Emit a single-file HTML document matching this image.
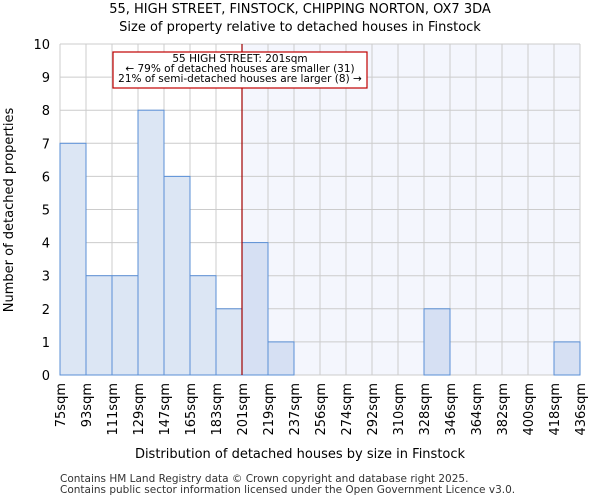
<!DOCTYPE html>
<html><head><meta charset="utf-8"><style>
body{margin:0;background:#fff;font-family:"DejaVu Sans","Liberation Sans",sans-serif}
</style></head><body>
<svg id="chart" width="600" height="500" xmlns="http://www.w3.org/2000/svg" font-family="DejaVu Sans, Liberation Sans, sans-serif">
<text x="300" y="13" font-size="13" text-anchor="middle">55, HIGH STREET, FINSTOCK, CHIPPING NORTON, OX7 3DA</text>
<text x="300" y="31" font-size="13" text-anchor="middle">Size of property relative to detached houses in Finstock</text>
<g id="plot"></g>
<text x="300" y="458" font-size="13" text-anchor="middle">Distribution of detached houses by size in Finstock</text>
<text transform="translate(13,210) rotate(-90)" font-size="13" text-anchor="middle">Number of detached properties</text>
<text x="60" y="482" font-size="10.5" fill="#333">Contains HM Land Registry data © Crown copyright and database right 2025.</text>
<text x="60" y="493" font-size="10.5" fill="#333">Contains public sector information licensed under the Open Government Licence v3.0.</text>
</svg>
<script>
const binLabels=["75sqm","93sqm","111sqm","129sqm","147sqm","165sqm","183sqm","201sqm","219sqm","237sqm","256sqm","274sqm","292sqm","310sqm","328sqm","346sqm","364sqm","382sqm","400sqm","418sqm","436sqm"];
const counts=[7,3,3,8,6,3,2,4,1,0,0,0,0,0,2,0,0,0,0,1];
const yTicks=[0,1,2,3,4,5,6,7,8,9,10];
const markerBin=7;
const NS="http://www.w3.org/2000/svg";
const L=60,R=580,T=44,B=375,yMax=10;
const bw=(R-L)/counts.length;
const xs=i=>L+i*bw;
const ys=v=>B-(v/yMax)*(B-T);
const g=document.getElementById('plot');
function mk(t,a){const e=document.createElementNS(NS,t);for(const k in a)e.setAttribute(k,a[k]);g.appendChild(e);return e;}
let hl=mk('rect',{x:xs(markerBin),y:T,width:R-xs(markerBin),height:B-T,fill:'#f4f6fd'});


for(let i=0;i<=counts.length;i++){let l=mk('line',{x1:xs(i),x2:xs(i),y1:T,y2:B,stroke:'#cccccc','stroke-width':1});

}
yTicks.forEach(v=>{let l=mk('line',{x1:L,x2:R,y1:ys(v),y2:ys(v),stroke:'#cccccc','stroke-width':1});


let t=mk('text',{x:L-10,y:ys(v)+5,'font-size':13,'text-anchor':'end'});t.textContent=v;

});
counts.forEach((c,i)=>{if(c<=0)return;let r=mk('rect',{x:xs(i),y:ys(c),width:bw,height:B-ys(c),fill:i>=markerBin?'#d6e0f3':'#dce6f4',stroke:'#5a8fd6','stroke-width':1});

});
binLabels.forEach((s,i)=>{let t=mk('text',{transform:`translate(${xs(i)+5},${B+8}) rotate(-90)`,'font-size':13,'text-anchor':'end'});t.textContent=s;

});
let ml=mk('line',{x1:xs(markerBin),x2:xs(markerBin),y1:T,y2:B,stroke:'#a00000','stroke-width':1.2});


let bx=mk('rect',{x:113,y:52,width:254,height:36,fill:'#fff',stroke:'#c00000','stroke-width':1.2});


["55 HIGH STREET: 201sqm","← 79% of detached houses are smaller (31)","21% of semi-detached houses are larger (8) →"].forEach((s,i)=>{let t=mk('text',{x:240,y:62+i*10,'font-size':10.5,'text-anchor':'middle'});t.textContent=s;

});
</script>
</body></html>
